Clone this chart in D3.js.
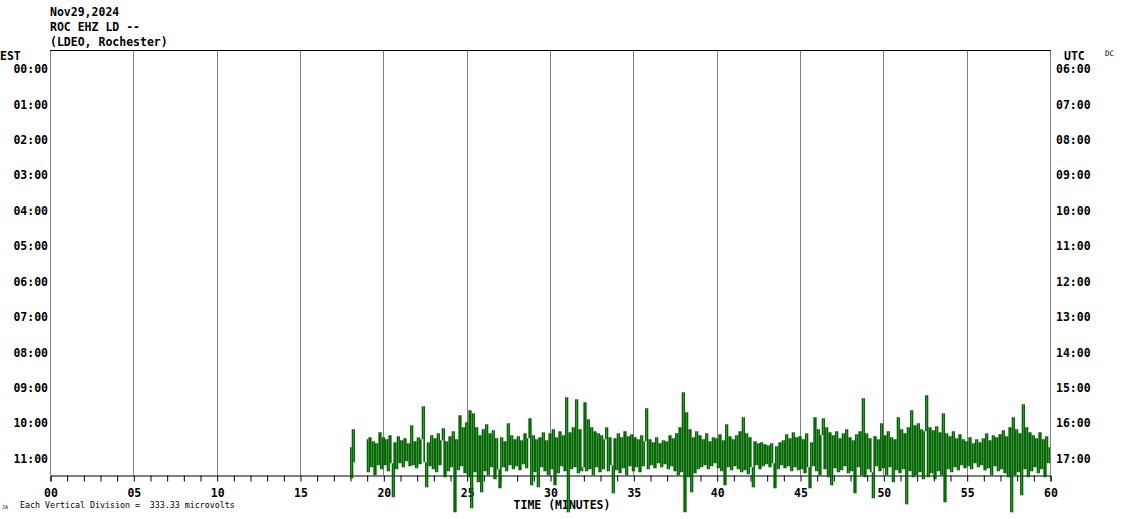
<!DOCTYPE html>
<html><head><meta charset="utf-8">
<script src="https://cdn.jsdelivr.net/npm/d3@7"></script>
<style>
html,body{margin:0;padding:0;background:#fff;}
svg{display:block;}
text{font-family:"DejaVu Sans Mono",monospace;}
</style></head>
<body>
<script>
// ---- data ----
const titleLines = ["Nov29,2024", "ROC EHZ LD --", "(LDEO, Rochester)"];
const estLabels = ["00:00","01:00","02:00","03:00","04:00","05:00","06:00","07:00","08:00","09:00","10:00","11:00"];
const utcLabels = ["06:00","07:00","08:00","09:00","10:00","11:00","12:00","13:00","14:00","15:00","16:00","17:00"];
const minuteTicks = d3.range(0, 61);
const gridMinutes = [0,5,10,15,20,25,30,35,40,45,50,55,60];
const microvoltsPerDivision = 333.33;
const traceRow = "11:00";
const traceStartMin = 18;
const sampleStepMin = 0.1;
// amplitude in microvolts, one sample every 0.1 min from 18.0 to 60.0 (null = no data)
const traceValues = [
  95,-198,264,-47,null,null,null,null,null,null,
  170,-141,188,-94,150,-170,132,-75,235,-113,
  188,-75,170,-132,207,-56,-377,141,-113,198,
  -56,160,-94,179,-38,132,-85,301,-75,150,
  -104,188,-66,170,480,-47,-283,141,-85,207,
  -113,179,-141,226,-75,160,273,-188,150,-132,
  198,-94,245,-518,170,-122,396,-85,283,-151,
  330,-188,443,-480,414,-141,283,-235,207,-330,
  264,-132,311,-170,226,-94,254,-207,179,-113,
  -292,188,-94,150,-132,320,-75,207,-113,170,
  -85,198,-122,160,-66,226,-104,179,367,-264,
  207,-141,170,-283,188,-94,235,-132,160,-170,
  226,-113,264,-264,188,-151,245,-85,207,-132,
  565,-518,235,-113,283,-94,546,-151,264,-132,
  -94,518,-132,358,-113,283,-170,245,-94,226,
  -141,207,-113,170,283,-132,188,-75,-339,179,
  -122,226,-151,188,-104,245,-170,198,-85,217,
  -132,188,-94,170,-141,207,-85,150,462,-113,
  170,-75,141,-104,188,-56,132,-94,160,-66,
  150,-113,207,-85,179,-132,226,-170,283,-141,
  612,-518,424,-188,264,-330,188,-151,245,-113,
  207,-94,170,-75,226,-113,150,-85,188,-56,
  179,-104,217,-132,160,-264,311,-94,198,-122,
  170,-85,207,-113,245,-141,377,-122,226,-160,
  188,-94,-283,150,-75,132,-113,141,-85,122,
  -66,113,-94,132,-56,-292,104,-113,141,-75,
  160,-104,217,-85,179,-132,235,-94,188,-122,
  198,-113,170,-151,226,-94,-292,141,-85,377,
  -132,264,-170,207,367,-113,283,-188,235,-264,
  207,-104,245,-141,179,-122,226,-85,264,-151,
  188,-132,160,-339,217,-94,245,-170,556,-188,
  226,-113,179,-141,-386,198,-85,170,-132,320,
  -104,207,-170,245,-94,188,-235,170,-122,377,
  -151,264,-113,226,-443,283,-132,443,-188,301,
  -170,320,-141,264,-207,245,584,-188,283,-151,
  254,-207,292,-132,235,-170,414,-424,226,-113,
  198,-141,245,-94,179,-122,217,-75,170,-104,
  150,-85,188,-113,132,-56,170,-94,141,-75,
  179,-122,226,-104,160,-170,207,-85,188,-132,
  217,-113,254,-151,198,-188,283,-518,377,-170,
  264,-141,226,-358,499,-113,283,-188,235,-132,
  207,-94,179,-151,235,-113,170,-188,198,-56,94
];
const footnote = "Each Vertical Division =  333.33 microvolts";

// ---- layout ----
const W = 1130, H = 519;
const plotLeft = 50, plotRight = 1050, plotTop = 50, plotBottom = 475;
const traceColor = "#006400";

const svg = d3.select("body").append("svg").attr("width", W).attr("height", H);

const x = d3.scaleLinear().domain([0, 60]).range([plotLeft, plotRight]);
const rows = d3.scaleBand().domain(estLabels).range([plotTop, plotBottom]);
const rowsUtc = d3.scaleBand().domain(utcLabels).range([plotTop, plotBottom]);
const rowH = rows.bandwidth();
const amp = d3.scaleLinear().domain([0, microvoltsPerDivision]).range([0, -rowH]);

// grid lines
svg.append("g").selectAll("line").data(gridMinutes).join("line")
  .attr("x1", d => Math.round(x(d)) + 0.5).attr("x2", d => Math.round(x(d)) + 0.5)
  .attr("y1", plotTop).attr("y2", plotBottom)
  .attr("stroke", "#808080").attr("stroke-width", 1);

// top border
svg.append("line").attr("x1", plotLeft).attr("x2", plotRight + 1)
  .attr("y1", plotTop + 0.5).attr("y2", plotTop + 0.5)
  .attr("stroke", "#000").attr("stroke-width", 1);

// bottom axis
const axis = d3.axisBottom(x).tickValues(minuteTicks)
  .tickSize(6).tickPadding(7)
  .tickFormat(d => d % 5 === 0 ? d3.format("02d")(d) : "");
const gAxis = svg.append("g").attr("transform", `translate(0.5,${plotBottom + 0.5})`).call(axis);
gAxis.select(".domain").attr("stroke", "#000");
gAxis.selectAll(".tick line").attr("stroke", "#000");
gAxis.selectAll("text").attr("font-family", "DejaVu Sans Mono").attr("font-weight", "bold")
  .attr("font-size", "11.5px").attr("fill", "#000");

// title
svg.append("g").selectAll("text").data(titleLines).join("text")
  .attr("x", 50).attr("y", (d, i) => 16 + i * 15)
  .attr("font-size", "11.5px").attr("font-weight", "bold").text(d => d);

// EST / UTC / DC
svg.append("text").attr("x", 0).attr("y", 60).attr("font-size", "11.5px").attr("font-weight", "bold").text("EST");
svg.append("text").attr("x", 1064).attr("y", 60).attr("font-size", "11.5px").attr("font-weight", "bold").text("UTC");
svg.append("text").attr("x", 1105).attr("y", 56).attr("font-size", "7.5px").attr("fill", "#000").text("DC");

// row labels
svg.append("g").selectAll("text").data(estLabels).join("text")
  .attr("x", 48).attr("y", d => rows(d) + rowH / 2 + 5.5)
  .attr("text-anchor", "end").attr("font-size", "11.5px").attr("font-weight", "bold").text(d => d);
svg.append("g").selectAll("text").data(utcLabels).join("text")
  .attr("x", 1056).attr("y", d => rowsUtc(d) + rowH / 2 + 5.5)
  .attr("font-size", "11.5px").attr("font-weight", "bold").text(d => d);

// axis title and footnote
svg.append("text").attr("x", 562).attr("y", 508.5).attr("text-anchor", "middle")
  .attr("font-size", "11.5px").attr("font-weight", "bold").text("TIME (MINUTES)");
svg.append("text").attr("x", 20).attr("y", 508).attr("font-size", "8.3px")
  .style("white-space", "pre").text(footnote);
svg.append("text").attr("x", 2).attr("y", 509).attr("font-size", "5px").text("JA");

// trace: each pair of consecutive samples is drawn as one vertical pen stroke
const trace = traceValues.map((v, i) => ({ t: traceStartMin + i * sampleStepMin, v }));
const rowCenter = rows(traceRow) + rowH / 2;
const strokes = d3.pairs(trace).filter(([a, b]) => a.v !== null && b.v !== null);
const strokeX = ([a, b]) => x((a.t + b.t) / 2);
svg.append("g").attr("stroke", traceColor).attr("stroke-width", 1.6)
  .selectAll("line").data(strokes).join("line")
  .attr("x1", strokeX).attr("x2", strokeX)
  .attr("y1", ([a]) => rowCenter + amp(a.v))
  .attr("y2", ([, b]) => rowCenter + amp(b.v));
</script>
</body></html>
